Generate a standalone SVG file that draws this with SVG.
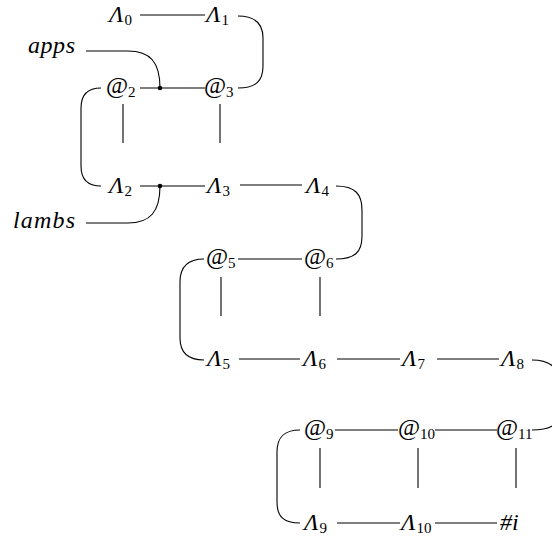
<svg xmlns="http://www.w3.org/2000/svg" width="552" height="544" viewBox="0 0 552 544">
  <style>
    .lbl { font-family: "Liberation Serif", "DejaVu Serif", serif; font-size: 24px; fill: #000; }
    .it { font-style: italic; }
    .sub { font-size: 15px; font-style: normal; }
    .edge { fill: none; stroke: #000; stroke-width: 1.1; }
    .dot { fill: #000; }
  </style>
  <rect width="552" height="544" fill="#fff"/>

  <g id="connectors">
    <path class="edge" d="M140 15 H205"/>
    <path class="edge" d="M238 16 C256 16 263 24 263 38 V66 C263 81 256 88 238 88"/>
    <path class="edge" d="M86 51 H128 C150 51 160 62 160 88"/>
    <path class="edge" d="M140 88 H205"/>
    <path class="edge" d="M101 88 C88 88 81 95 81 108 V166 C81 180 88 186 101 186"/>
    <path class="edge" d="M123 104 V143"/>
    <path class="edge" d="M220 104 V143"/>
    <path class="edge" d="M140 186 H205"/>
    <path class="edge" d="M86 223 H128 C150 223 160 212 160 186"/>
    <path class="edge" d="M240 185 H302"/>
    <path class="edge" d="M336 186 C355 186 362 194 362 210 V236 C362 252 355 259 336 259"/>
    <path class="edge" d="M238 259 H302"/>
    <path class="edge" d="M204 259 C188 259 180 266 180 282 V338 C180 353 188 360 204 360"/>
    <path class="edge" d="M221 277 V316"/>
    <path class="edge" d="M320 277 V316"/>
    <path class="edge" d="M239 359 H300"/>
    <path class="edge" d="M337 359 H400"/>
    <path class="edge" d="M437 359 H499"/>
    <path class="edge" d="M532 360 C550 360 560 368 560 385 V412 C560 425 550 430 532 430"/>
    <path class="edge" d="M335 430 H398"/>
    <path class="edge" d="M435 430 H497"/>
    <path class="edge" d="M300 430 C284 430 277 437 277 452 V502 C277 517 284 523 300 523"/>
    <path class="edge" d="M320 448 V488"/>
    <path class="edge" d="M418 448 V488"/>
    <path class="edge" d="M516 448 V488"/>
    <path class="edge" d="M337 523 H400"/>
    <path class="edge" d="M435 523 H497"/>
    <circle class="dot" cx="160" cy="88" r="2.3"/>
    <circle class="dot" cx="160" cy="186" r="2.3"/>
  </g>

  <g id="L0"><text class="lbl" x="109" y="22"><tspan class="it">Λ</tspan><tspan class="sub" dx="1" dy="3">0</tspan></text></g>
  <g id="L1"><text class="lbl" x="206" y="22"><tspan class="it">Λ</tspan><tspan class="sub" dx="1" dy="3">1</tspan></text></g>
  <g id="apps"><text class="lbl it" x="28" y="53" textLength="47" lengthAdjust="spacing">apps</text></g>
  <g id="A2"><text class="lbl" x="106" y="93">@<tspan class="sub" dy="4">2</tspan></text></g>
  <g id="A3"><text class="lbl" x="204" y="93">@<tspan class="sub" dy="4">3</tspan></text></g>
  <g id="L2"><text class="lbl" x="109" y="193"><tspan class="it">Λ</tspan><tspan class="sub" dx="1" dy="3">2</tspan></text></g>
  <g id="L3"><text class="lbl" x="207" y="193"><tspan class="it">Λ</tspan><tspan class="sub" dx="1" dy="3">3</tspan></text></g>
  <g id="L4"><text class="lbl" x="306" y="193"><tspan class="it">Λ</tspan><tspan class="sub" dx="1" dy="3">4</tspan></text></g>
  <g id="lambs"><text class="lbl it" x="13" y="228" textLength="62" lengthAdjust="spacing">lambs</text></g>
  <g id="A5"><text class="lbl" x="206" y="264">@<tspan class="sub" dy="4">5</tspan></text></g>
  <g id="A6"><text class="lbl" x="304" y="264">@<tspan class="sub" dy="4">6</tspan></text></g>
  <g id="L5"><text class="lbl" x="207" y="366"><tspan class="it">Λ</tspan><tspan class="sub" dx="1" dy="3">5</tspan></text></g>
  <g id="L6"><text class="lbl" x="303" y="366"><tspan class="it">Λ</tspan><tspan class="sub" dx="1" dy="3">6</tspan></text></g>
  <g id="L7"><text class="lbl" x="402" y="366"><tspan class="it">Λ</tspan><tspan class="sub" dx="1" dy="3">7</tspan></text></g>
  <g id="L8"><text class="lbl" x="501" y="366"><tspan class="it">Λ</tspan><tspan class="sub" dx="1" dy="3">8</tspan></text></g>
  <g id="A9"><text class="lbl" x="304" y="435">@<tspan class="sub" dy="4">9</tspan></text></g>
  <g id="A10"><text class="lbl" x="398" y="435">@<tspan class="sub" dy="4">10</tspan></text></g>
  <g id="A11"><text class="lbl" x="496" y="435">@<tspan class="sub" dy="4">11</tspan></text></g>
  <g id="L9"><text class="lbl" x="304" y="530"><tspan class="it">Λ</tspan><tspan class="sub" dx="1" dy="3">9</tspan></text></g>
  <g id="L10"><text class="lbl" x="401" y="530"><tspan class="it">Λ</tspan><tspan class="sub" dx="1" dy="3">10</tspan></text></g>
  <g id="hash"><text class="lbl it" x="500" y="530">#i</text></g>
</svg>
